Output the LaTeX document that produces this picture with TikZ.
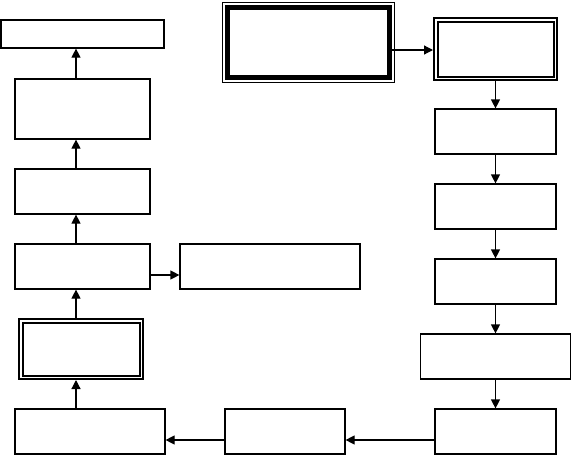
\documentclass[tikz,border=0pt]{standalone}
\usepackage{xcolor}
\usepackage{tikz}
\usetikzlibrary{arrows.meta}
\definecolor{fcblack}{RGB}{0,0,0}

\begin{document}
\begin{tikzpicture}[x=1pt, y=-1pt,
        box/.style={draw=fcblack, line width=1.2pt, fill=white, inner sep=0pt},
        dblbox/.style={draw=fcblack, line width=2pt, double=white, double distance=1.5pt, inner sep=0pt, outer sep=2.75pt},
        arr/.style={draw=fcblack, line width=1.2pt, -{Triangle[length=9pt,width=9pt]}}]
    \useasboundingbox (0,0) rectangle (571,455);

    % left column, bottom to top
    \node[box, minimum width=163pt, minimum height=28pt] (top) at (82.5,34) {};
    \node[box, minimum width=135pt, minimum height=60pt] (upper) at (82.5,109) {};
    \node[box, minimum width=135pt, minimum height=45pt] (mid) at (82.5,191.5) {};
    \node[box, minimum width=135pt, minimum height=45pt] (low) at (82.5,266.5) {};
    \node[box, minimum width=180pt, minimum height=45pt] (side) at (270,266.5) {};
    \node[dblbox, minimum width=120.5pt, minimum height=56.5pt] (check) at (81,349) {};
    \node[box, minimum width=150pt, minimum height=45pt] (base) at (90,431.5) {};

    % bottom row
    \node[box, minimum width=120pt, minimum height=45pt] (bmid) at (285,431.5) {};
    \node[box, minimum width=121pt, minimum height=45pt] (bright) at (495.5,431.5) {};

    % start box and right column
    \node[draw=fcblack, line width=4.5pt, minimum width=162pt, minimum height=70pt] (start) at (308.5,42.5) {};
    \draw[fcblack, line width=0.9pt] ([shift={(-2.5pt,2.5pt)}]start.north west) rectangle ([shift={(2.5pt,-2.5pt)}]start.south east);
    \node[dblbox, minimum width=119.5pt, minimum height=58.5pt] (entry) at (495.5,49) {};
    \node[box, minimum width=121pt, minimum height=45pt] (r1) at (495.5,131.5) {};
    \node[box, minimum width=121pt, minimum height=45pt] (r2) at (495.5,206.5) {};
    \node[box, minimum width=121pt, minimum height=45pt] (r3) at (495.5,281.5) {};
    \node[box, minimum width=150pt, minimum height=45pt] (r4) at (495.5,356.5) {};

    % connectors
    \coordinate (lcol) at (76,0);
    \draw[arr] ([yshift=-7.5pt]start.east) -- ([yshift=-7.5pt]start.east -| entry.west);
    \draw[arr] (entry.south) -- (r1.north);
    \draw[arr] (r1.south) -- (r2.north);
    \draw[arr] (r2.south) -- (r3.north);
    \draw[arr] (r3.south) -- (r4.north);
    \draw[arr] (r4.south) -- (bright.north);
    \draw[arr] ([yshift=-8.5pt]bright.west) -- ([yshift=-8.5pt]bmid.east);
    \draw[arr] ([yshift=-8.5pt]bmid.west) -- ([yshift=-8.5pt]base.east);
    \draw[arr] (base.north -| lcol) -- (check.south -| lcol);
    \draw[arr] (check.north -| lcol) -- (low.south -| lcol);
    \draw[arr] ([yshift=-8.5pt]low.east) -- ([yshift=-8.5pt]side.west);
    \draw[arr] (low.north -| lcol) -- (mid.south -| lcol);
    \draw[arr] (mid.north -| lcol) -- (upper.south -| lcol);
    \draw[arr] (upper.north -| lcol) -- (top.south -| lcol);
\end{tikzpicture}
\end{document}
